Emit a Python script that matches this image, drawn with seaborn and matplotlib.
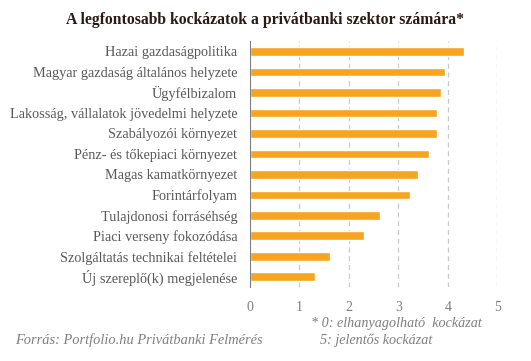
import matplotlib
matplotlib.use('Agg')
import matplotlib.pyplot as plt
import seaborn as sns
import pandas as pd

# Data
kockazatok = [
    'Hazai gazdaságpolitika',
    'Magyar gazdaság általános helyzete',
    'Ügyfélbizalom',
    'Lakosság, vállalatok jövedelmi helyzete',
    'Szabályozói környezet',
    'Pénz- és tőkepiaci környezet',
    'Magas kamatkörnyezet',
    'Forintárfolyam',
    'Tulajdonosi forráséhség',
    'Piaci verseny fokozódása',
    'Szolgáltatás technikai feltételei',
    'Új szereplő(k) megjelenése',
]
ertekek = [4.33, 3.95, 3.87, 3.78, 3.78, 3.62, 3.40, 3.24, 2.63, 2.31, 1.62, 1.32]
x_ticks = [0, 1, 2, 3, 4, 5]

df = pd.DataFrame({'kockazat': kockazatok, 'ertek': ertekek})

sns.set_style('white')
plt.rcParams['font.family'] = ['Liberation Serif', 'DejaVu Serif']

fig = plt.figure(figsize=(5.31, 3.61), dpi=100)
ax = fig.add_axes([0.4703, 0.205, 0.4663, 0.681])

sns.barplot(data=df, x='ertek', y='kockazat', color='#F7A51E', width=0.42,
            saturation=1, ax=ax)

ax.set_xlim(0, 5)
ax.set_ylim(11.5, -0.5)
ax.set_xticks(x_ticks)
ax.set_xlabel('')
ax.set_ylabel('')
ax.grid(axis='x', color='#c8c8c8', linestyle=(0, (4, 3)), linewidth=0.9)
ax.set_axisbelow(True)
for s in ['top', 'right', 'bottom']:
    ax.spines[s].set_visible(False)
ax.spines['left'].set_color('#808080')
ax.tick_params(axis='y', length=0, pad=9, labelsize=10.3, labelcolor='#595959')
ax.tick_params(axis='x', length=0, pad=10, labelsize=10, labelcolor='#7f7f7f')

fig.text(0.5, 0.945, 'A legfontosabb kockázatok a privátbanki szektor számára*',
         ha='center', va='center', fontsize=11.3, fontweight='bold', color='#2b1a12')
fig.text(0.028, 0.058, 'Forrás: Portfolio.hu Privátbanki Felmérés',
         ha='left', va='center', fontsize=10.4, style='italic', color='#7f7f7f')
fig.text(0.585, 0.103, '* 0: elhanyagolható  kockázat',
         ha='left', va='center', fontsize=10.2, style='italic', color='#7f7f7f')
fig.text(0.603, 0.058, '5: jelentős kockázat',
         ha='left', va='center', fontsize=10.2, style='italic', color='#7f7f7f')

fig.savefig('out.png', dpi=100)
